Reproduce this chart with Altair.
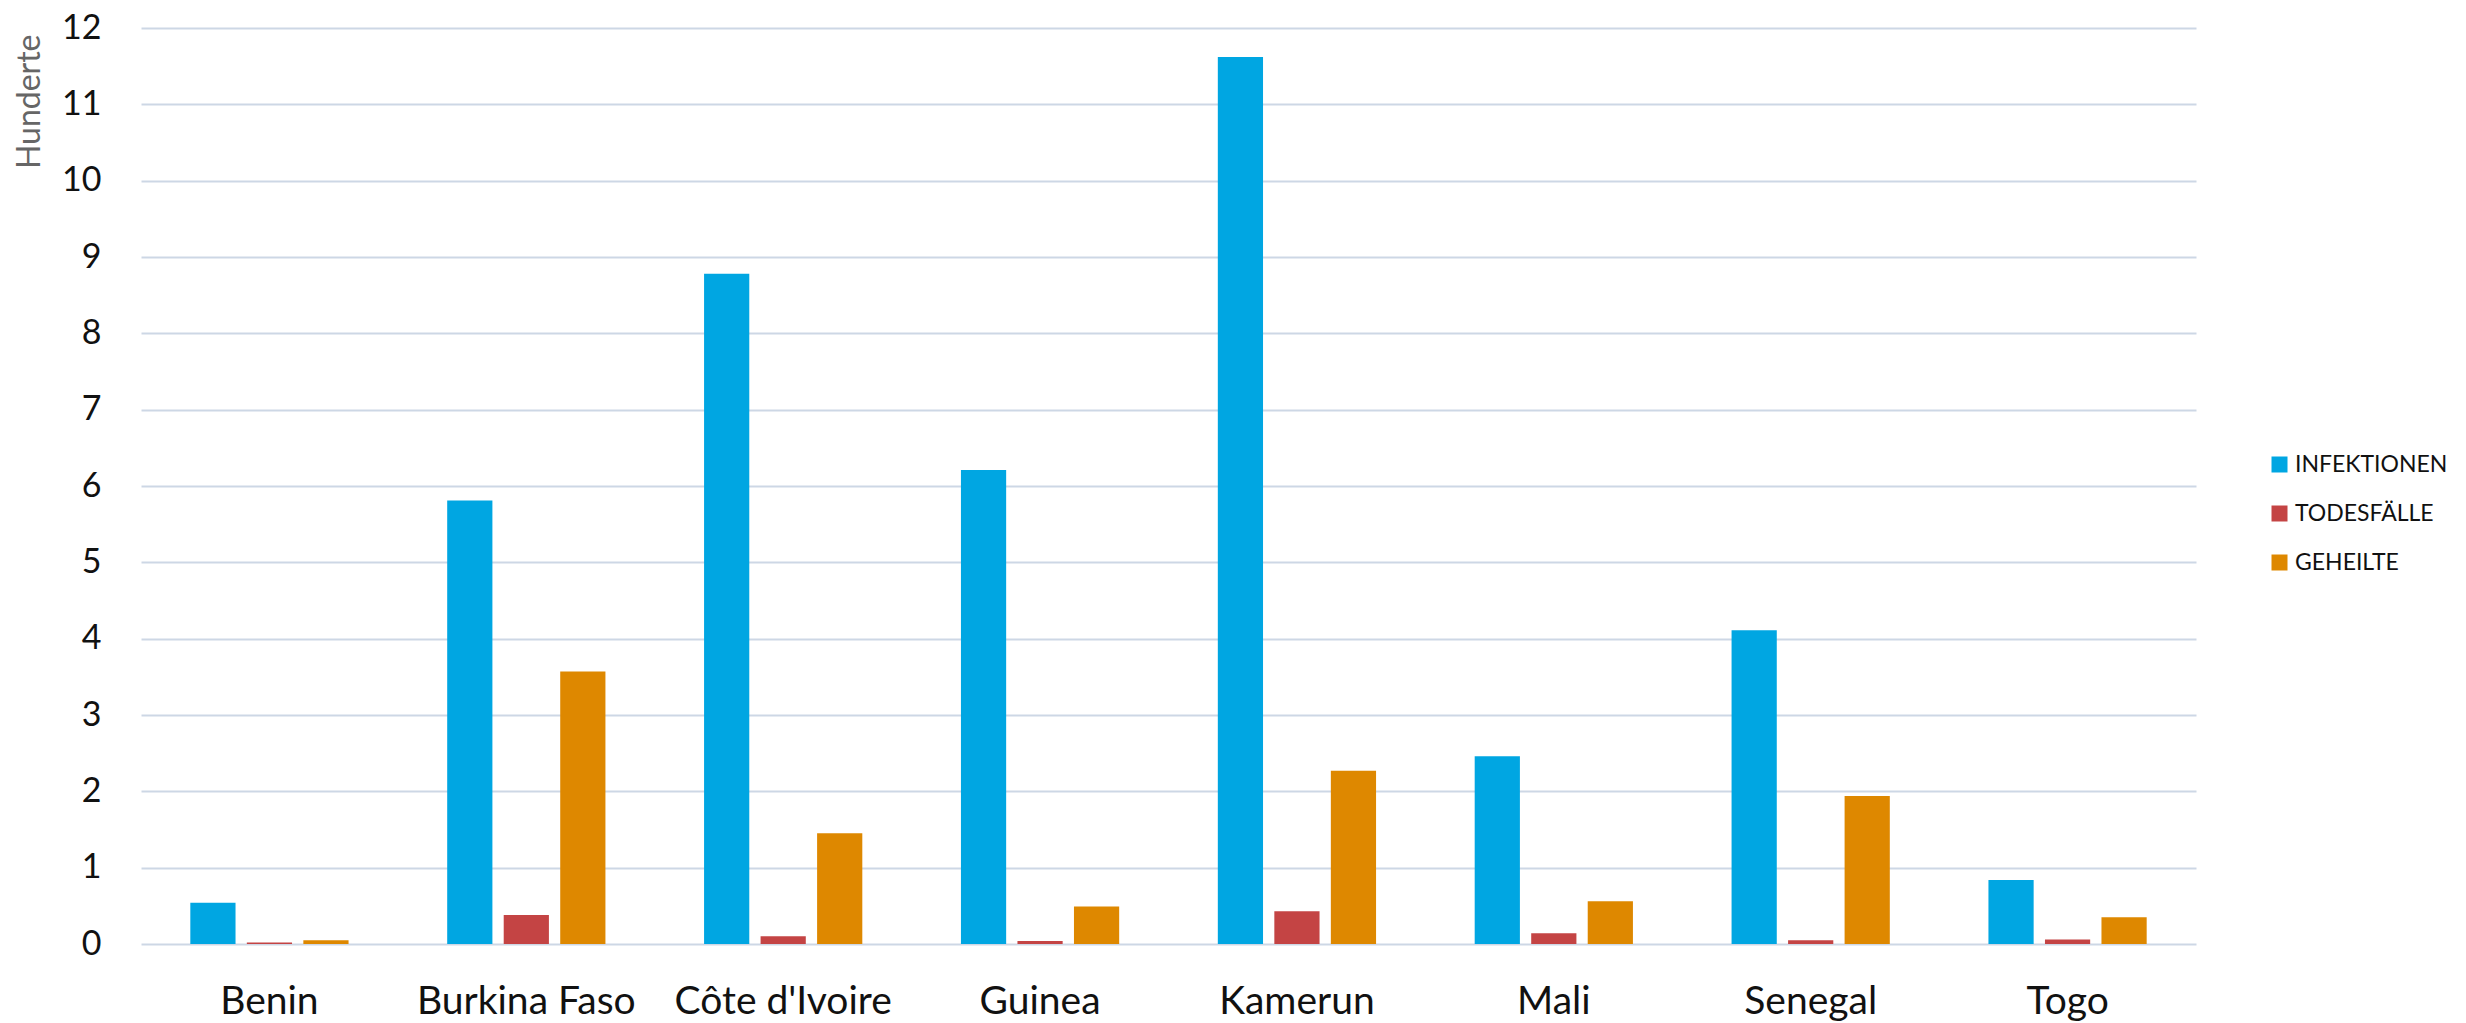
import altair as alt
import pandas as pd

countries = ["Benin", "Burkina Faso", "Côte d'Ivoire", "Guinea", "Kamerun", "Mali", "Senegal", "Togo"]
series = ["INFEKTIONEN", "TODESFÄLLE", "GEHEILTE"]
infektionen = [0.54, 5.81, 8.78, 6.21, 11.62, 2.46, 4.11, 0.84]
todesfaelle = [0.02, 0.38, 0.10, 0.04, 0.43, 0.14, 0.05, 0.06]
geheilte = [0.05, 3.57, 1.45, 0.49, 2.27, 0.56, 1.94, 0.35]
colors = ["#00a6e2", "#c44444", "#de8800"]
y_ticks = list(range(0, 13))

rows = []
for name, vals in zip(series, [infektionen, todesfaelle, geheilte]):
    for c, v in zip(countries, vals):
        rows.append({"Land": c, "Serie": name, "Wert": v})
df = pd.DataFrame(rows)

FONT = "Lato"

chart = alt.Chart(df).mark_bar().encode(
    x=alt.X(
        "Land:N", sort=countries,
        scale=alt.Scale(paddingInner=0.34, paddingOuter=0.17),
        axis=alt.Axis(title=None, labelAngle=0, labelFontSize=39, labelFont=FONT,
                      labelColor="#111111", labelPadding=38, labelLimit=0,
                      ticks=False, domain=False, grid=False),
    ),
    xOffset=alt.XOffset("Serie:N", sort=series,
                        scale=alt.Scale(paddingInner=0.2, paddingOuter=0.1)),
    y=alt.Y(
        "Wert:Q",
        scale=alt.Scale(domain=[0, 12], nice=False),
        axis=alt.Axis(values=y_ticks, format="d", title="Hunderte", titleFont=FONT,
                      titleFontSize=32, titleFontWeight="normal", titleColor="#666666",
                      titleAngle=270, titleX=-112, titleY=6, titleAlign="right",
                      titleBaseline="middle", labelFontSize=34, labelFont=FONT,
                      labelColor="#111111", labelPadding=40, ticks=False, domain=False,
                      gridColor="#cdd7e5", gridWidth=2),
    ),
    color=alt.Color(
        "Serie:N", sort=series,
        scale=alt.Scale(domain=series, range=colors),
        legend=alt.Legend(title=None, orient="none", legendX=2127, legendY=425,
                          symbolType="square", symbolSize=256, labelFontSize=23,
                          labelFont=FONT, labelColor="#111111", rowPadding=25,
                          labelOffset=4, padding=0, symbolStrokeWidth=0),
    ),
).properties(
    width=2055, height=916,
    padding={"top": 3, "left": 5, "right": 5, "bottom": 5},
).configure_view(stroke=None)

chart.save("out.html", embed_options={"renderer": "svg", "actions": False})
